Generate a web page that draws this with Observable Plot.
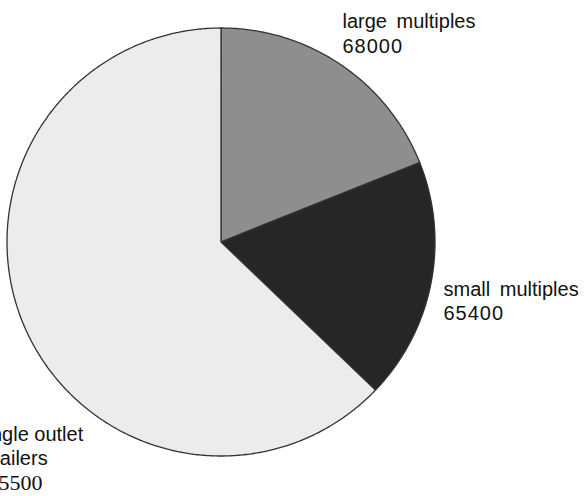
<!DOCTYPE html>
<html>
<head>
<meta charset="utf-8">
<script src="https://cdn.jsdelivr.net/npm/d3@7"></script>
<script src="https://cdn.jsdelivr.net/npm/@observablehq/plot@0.6"></script>
<style>
  html, body { margin: 0; padding: 0; background: #fff; }
  #chart { width: 584px; height: 496px; overflow: hidden; }
</style>
</head>
<body>
<div id="chart"></div>
<script>
// ---- data ----
const categories = ["large multiples", "small multiples", "single outlet retailers"];
const values = [68000, 65400, 225500];
const nameLines = [["large multiples"], ["small multiples"], ["single outlet", "retailers"]];
const valueLabels = ["68000", "65400", "225500"];
const colors = ["#8e8e8e", "#262626", "#ececec"];

// ---- slice outlines from the pie layout (clockwise from 12 o'clock) ----
const arcs = d3.pie().sort(null).value((d, i) => values[i])(categories);
const outline = [];
arcs.forEach((a, i) => {
  const name = categories[i];
  const n = Math.max(2, Math.ceil((a.endAngle - a.startAngle) / (Math.PI / 360)));
  outline.push({name, u: 0, v: 0});
  for (let k = 0; k <= n; k++) {
    const t = a.startAngle + (a.endAngle - a.startAngle) * k / n;
    outline.push({name, u: Math.sin(t), v: Math.cos(t)});
  }
  outline.push({name, u: 0, v: 0});
});

// label placement (pixels from top-left), name lines then value
const labelPos = [
  {x: 342, y: 27, vy: 52, serif: false},
  {x: 443, y: 295, vy: 319, serif: false},
  {x: -24, y: 440, vy: 489, serif: true}
];

const sans = "'Liberation Sans', Arial, Helvetica, sans-serif";
const serif = "'Liberation Serif', 'Times New Roman', serif";

const labelMarks = [];
categories.forEach((c, i) => {
  const p = labelPos[i];
  nameLines[i].forEach((line, j) => {
    labelMarks.push(Plot.text([line], {
      text: d => d, frameAnchor: "top-left", dx: p.x, dy: p.y + j * 24,
      textAnchor: "start", lineAnchor: "bottom",
      fontFamily: sans, fontSize: 20, fill: "#111"
    }));
  });
  labelMarks.push(Plot.text([valueLabels[i]], {
    text: d => d, frameAnchor: "top-left", dx: p.x, dy: p.vy,
    textAnchor: "start", lineAnchor: "bottom",
    fontFamily: p.serif ? serif : sans, fontSize: p.serif ? 22 : 20, fill: "#111"
  }));
});

const chart = Plot.plot({
  width: 584,
  height: 496,
  margin: 0,
  style: {background: "#fff", overflow: "visible"},
  x: {domain: [-1, 1], range: [6.5, 434.5], axis: null},
  y: {domain: [-1, 1], range: [455.5, 27.5], axis: null},
  color: {domain: categories, range: colors},
  marks: [
    Plot.line(outline, {
      x: "u", y: "v", z: "name", fill: "name",
      stroke: "#333", strokeWidth: 1.3, strokeLinejoin: "round"
    }),
    ...labelMarks
  ]
});

d3.select(chart).selectAll("text")
  .filter(function() { return this.textContent.includes("multiples"); })
  .style("word-spacing", "4px");
d3.select(chart).selectAll("text")
  .filter(function() { return this.textContent === "68000" || this.textContent === "65400"; })
  .style("letter-spacing", "1px");

document.getElementById("chart").appendChild(chart);
</script>
</body>
</html>
